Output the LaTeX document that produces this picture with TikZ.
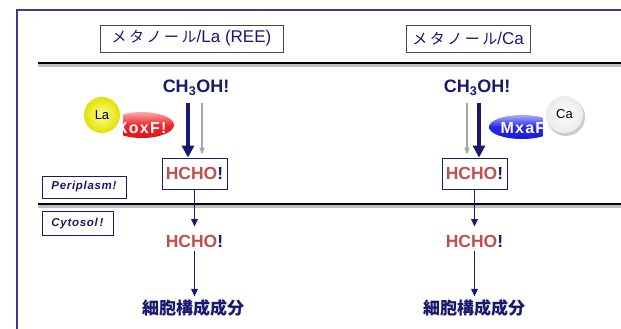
\documentclass[tikz,border=0pt]{standalone}
\usepackage{fontspec}
\setmainfont{Liberation Sans}
\newfontfamily\jp{Noto Sans CJK JP}
\usetikzlibrary{arrows.meta,shapes.geometric}
\definecolor{navy}{RGB}{25,25,110}
\definecolor{frameblue}{RGB}{60,60,140}
\definecolor{hred}{RGB}{192,80,77}
\definecolor{boxgray}{RGB}{70,70,70}
\tikzset{
  titlebox/.style={draw=boxgray,line width=0.9pt,fill=white,text=navy,minimum height=27pt,inner xsep=6pt},
  compbox/.style={draw=navy,line width=0.8pt,fill=white,inner sep=0pt},
  membrane/.style={line width=2pt,black},
  mshadow/.style={line width=2.5pt,black!25},
  bigarr/.style={line width=4pt,navy,-{Triangle[width=12pt,length=12pt]}},
  grayarr/.style={line width=1.5pt,black!35,-{Triangle[width=5pt,length=7pt]}},
  thinarr/.style={line width=1.4pt,navy,-{Triangle[width=6.5pt,length=7.5pt]}},
  chem/.style={font=\fontsize{18}{20}\selectfont\bfseries,text=navy,inner sep=4pt},
  ald/.style={font=\fontsize{17.5}{20}\selectfont\bfseries,inner sep=4pt},
  prod/.style={font=\jp\bfseries\fontsize{17}{20}\selectfont,text=navy,inner sep=3pt},
  compart/.style={draw=navy,line width=0.9pt,font=\fontsize{11.5}{13}\selectfont\bfseries\itshape\addfontfeature{LetterSpace=6},text=navy,inner sep=0pt},
  enztext/.style={text=white,font=\fontsize{16}{18}\selectfont\bfseries\addfontfeature{LetterSpace=8}},
}
\begin{document}
\begin{tikzpicture}[x=1pt,y=-1pt]
\useasboundingbox (0,0) rectangle (621,329);
\fill[white] (0,0) rectangle (621,329);
% frame
\draw[frameblue,line width=1.2pt] (17,329) -- (17,10) -- (621,10);
% membranes
\draw[mshadow] (38,65.5) -- (621,65.5);
\draw[membrane] (38,63) -- (621,63);
\draw[mshadow] (38,206.5) -- (621,206.5);
\draw[membrane] (38,204) -- (621,204);
% titles
\node[titlebox,minimum width=183pt] (t1) at (191.5,38.5) {{\jp\fontsize{15}{16}\selectfont メ\,タ\,ノ\,ー\,ル}{\fontsize{17}{19}\selectfont /La (REE)}};
\node[titlebox,minimum width=124pt] (t2) at (468,38.5) {{\jp\fontsize{15}{16}\selectfont メ\,タ\,ノ\,ー\,ル}{\fontsize{17}{19}\selectfont /Ca}};
% compartments
\node[compart,minimum width=84pt,minimum height=22pt] (peri) at (84,187) {Periplasm!};
\node[compart,minimum width=71pt,minimum height=24pt] (cyto) at (77.5,223.5) {Cytosol\,!};
% left column
\node[chem] (ch1) at (196,88) {CH\textsubscript{3}OH!};
\node[compbox,minimum width=65pt,minimum height=31pt] (hb1) at (194.5,173.5) {\fontsize{17.5}{20}\selectfont\bfseries\textcolor{hred}{HCHO}\textcolor{navy}{!}};
\node[ald] (hc1) at (194.5,241) {\textcolor{hred}{HCHO}\textcolor{navy}{!}};
\node[prod] (p1) at (193,308) {細胞構成成分};
% right column
\node[chem] (ch2) at (477,88) {CH\textsubscript{3}OH!};
\node[compbox,minimum width=65pt,minimum height=31pt] (hb2) at (474.5,173.5) {\fontsize{17.5}{20}\selectfont\bfseries\textcolor{hred}{HCHO}\textcolor{navy}{!}};
\node[ald] (hc2) at (474.5,241) {\textcolor{hred}{HCHO}\textcolor{navy}{!}};
\node[prod] (p2) at (474,308) {細胞構成成分};
% arrows left
\draw[bigarr,shorten <=3pt] ([xshift=-8pt]ch1.south) -- ([xshift=-8pt]ch1.south |- hb1.north);
\draw[grayarr,shorten <=3pt,shorten >=3pt] ([xshift=6pt]ch1.south) -- ([xshift=6pt]ch1.south |- hb1.north);
\draw[thinarr,shorten >=4pt] (hb1.south) -- (hc1.north);
\draw[thinarr] (hc1.south) -- (p1.north -| hc1.south);
% arrows right
\draw[bigarr,shorten <=3pt] ([xshift=2pt]ch2.south) -- ([xshift=2pt]ch2.south |- hb2.north);
\draw[grayarr,shorten <=3pt,shorten >=3pt] ([xshift=-10pt]ch2.south) -- ([xshift=-10pt]ch2.south |- hb2.north);
\draw[thinarr,shorten >=4pt] (hb2.south) -- (hc2.north);
\draw[thinarr] (hc2.south) -- (p2.north -| hc2.south);
% XoxF enzyme with La
\node[ellipse,minimum width=64pt,minimum height=26pt,inner sep=0pt,
      top color={rgb,255:red,255;green,170;blue,170},bottom color={rgb,255:red,225;green,20;blue,25},
      middle color={rgb,255:red,235;green,40;blue,45},shading angle=0] (xox) at (142,125) {};
\node[enztext,anchor=east] (xoxt) at (170,128.5) {XoxF!};
\fill[white] (78,94) rectangle (123,139.5);
\node[circle,minimum size=36pt,inner sep=0pt,shading=radial,inner color={rgb,255:red,255;green,255;blue,150},outer color={rgb,255:red,225;green,225;blue,0}] (la) at (102,115) {\fontsize{13}{15}\selectfont La};
% MxaF enzyme with Ca
\node[ellipse,minimum width=66pt,minimum height=24pt,inner sep=0pt,
      top color={rgb,255:red,170;green,170;blue,255},bottom color={rgb,255:red,25;green,25;blue,220},
      middle color={rgb,255:red,40;green,40;blue,235},shading angle=0] (mxa) at (522,127) {};
\node[enztext,anchor=west] (mxat) at (497,128.5) {MxaF};
\fill[white] (543,94) rectangle (588,139.5);
\fill[black!20] (566,117) circle (19pt);
\node[circle,minimum size=37pt,inner sep=0pt,shading=radial,inner color=white,outer color=black!8] (ca) at (564.5,114.5) {\fontsize{13}{15}\selectfont Ca};
\end{tikzpicture}
\end{document}
